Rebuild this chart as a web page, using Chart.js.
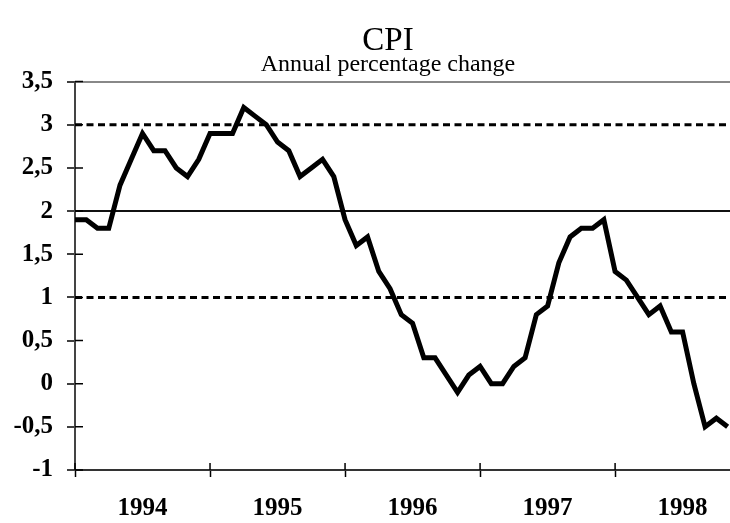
<!DOCTYPE html>
<html>
<head>
<meta charset="utf-8">
<script src="https://cdn.jsdelivr.net/npm/chart.js@4"></script>
<style>
    html, body { margin: 0; padding: 0; background: #fff; overflow: hidden; }
    #wrap { width: 730px; height: 523px; overflow: hidden; }
</style>
</head>
<body>
<div id="wrap"><canvas id="cpiChart" width="776" height="523"></canvas></div>
<script>
// Monthly CPI, annual % change, Jan 1994 .. Nov 1998
const cpiValues = [
    1.9, 1.9, 1.8, 1.8, 2.3, 2.6, 2.9, 2.7, 2.7, 2.5, 2.4, 2.6,   // 1994
    2.9, 2.9, 2.9, 3.2, 3.1, 3.0, 2.8, 2.7, 2.4, 2.5, 2.6, 2.4,   // 1995
    1.9, 1.6, 1.7, 1.3, 1.1, 0.8, 0.7, 0.3, 0.3, 0.1, -0.1, 0.1,  // 1996
    0.2, 0.0, 0.0, 0.2, 0.3, 0.8, 0.9, 1.4, 1.7, 1.8, 1.8, 1.9,   // 1997
    1.3, 1.2, 1.0, 0.8, 0.9, 0.6, 0.6, 0.0, -0.5, -0.4, -0.5      // 1998
];
const years = ['1994', '1995', '1996', '1997', '1998'];
const yTicks = [-1, -0.5, 0, 0.5, 1, 1.5, 2, 2.5, 3, 3.5];

// inflation target and tolerance band
const targetMid = 2;
const bandUpper = 3;
const bandLower = 1;

const monthsTotal = years.length * 12;
// the plot runs a little past Dec 1998; the page crops it at the right edge
const xMax = 62.3;
const serifFont = "'Liberation Serif', 'Times New Roman', serif";

const cpiPoints = cpiValues.map((v, i) => ({ x: i, y: v }));
const flatLine = v => [{ x: 0, y: v }, { x: xMax, y: v }];

// short tick marks that cross into the plot area
const crossTicks = {
    id: 'crossTicks',
    afterDraw(chart) {
        const c = chart.ctx;
        const xs = chart.scales.x;
        const ys = chart.scales.y;
        c.save();
        c.strokeStyle = '#000';
        c.lineWidth = 1.5;
        c.beginPath();
        ys.ticks.forEach(t => {
            const py = ys.getPixelForValue(t.value);
            c.moveTo(ys.right, py);
            c.lineTo(ys.right + 8, py);
        });
        xs.ticks.forEach(t => {
            if (t.value % 12 !== 0) return;
            const px = xs.getPixelForValue(t.value);
            c.moveTo(px, xs.top);
            c.lineTo(px, xs.top - 7);
        });
        c.stroke();
        c.restore();
    }
};

new Chart(document.getElementById('cpiChart'), {
    type: 'line',
    data: {
        datasets: [
            {
                label: 'CPI',
                data: cpiPoints,
                borderColor: '#000',
                borderWidth: 5,
                pointRadius: 0,
                tension: 0,
                borderJoinStyle: 'miter'
            },
            {
                label: 'Upper',
                data: flatLine(bandUpper),
                borderColor: '#000',
                borderWidth: 3,
                borderDash: [7, 4.5],
                pointRadius: 0
            },
            {
                label: 'Target',
                data: flatLine(targetMid),
                borderColor: '#111',
                borderWidth: 2,
                pointRadius: 0
            },
            {
                label: 'Lower',
                data: flatLine(bandLower),
                borderColor: '#000',
                borderWidth: 3,
                borderDash: [7, 4.5],
                pointRadius: 0
            }
        ]
    },
    options: {
        responsive: false,
        animation: false,
        layout: { padding: 0 },
        plugins: {
            legend: { display: false },
            tooltip: { enabled: false },
            title: {
                display: true,
                text: 'CPI',
                color: '#000',
                font: { family: serifFont, size: 33, weight: 'normal', lineHeight: 0.8 },
                padding: { top: 28, bottom: 0 }
            },
            subtitle: {
                display: true,
                text: 'Annual percentage change',
                color: '#000',
                font: { family: serifFont, size: 24, weight: 'normal', lineHeight: 0.8 },
                padding: { top: 1, bottom: 7 }
            }
        },
        scales: {
            x: {
                type: 'linear',
                min: 0,
                max: xMax,
                afterBuildTicks: scale => {
                    const t = [];
                    for (let m = 0; m <= monthsTotal; m += 6) t.push({ value: m });
                    scale.ticks = t;
                },
                afterFit: scale => { scale.height = 53; },
                ticks: {
                    autoSkip: false,
                    maxRotation: 0,
                    padding: 17,
                    color: '#000',
                    font: { family: serifFont, size: 25, weight: 'bold' },
                    callback: v => (v % 12 === 6 ? years[(v - 6) / 12] : '')
                },
                grid: {
                    drawOnChartArea: false,
                    tickLength: 7,
                    tickWidth: 1.5,
                    tickColor: ctx => (ctx.tick && ctx.tick.value % 12 === 0 ? '#000' : 'rgba(0,0,0,0)')
                },
                border: { display: true, color: '#333', width: 2 }
            },
            y: {
                min: -1,
                max: 3.5,
                afterBuildTicks: scale => { scale.ticks = yTicks.map(v => ({ value: v })); },
                afterFit: scale => { scale.width = 75; },
                ticks: {
                    padding: 14,
                    color: '#000',
                    font: { family: serifFont, size: 25, weight: 'bold' },
                    callback: v => String(v).replace('.', ',')
                },
                grid: {
                    lineWidth: 2,
                    tickLength: 8,
                    tickWidth: 1.5,
                    tickColor: '#000',
                    color: ctx => (ctx.tick && ctx.tick.value === 3.5 ? '#888' : 'rgba(0,0,0,0)')
                },
                border: { display: true, color: '#444', width: 2 }
            }
        }
    },
    plugins: [crossTicks]
});
</script>
</body>
</html>
